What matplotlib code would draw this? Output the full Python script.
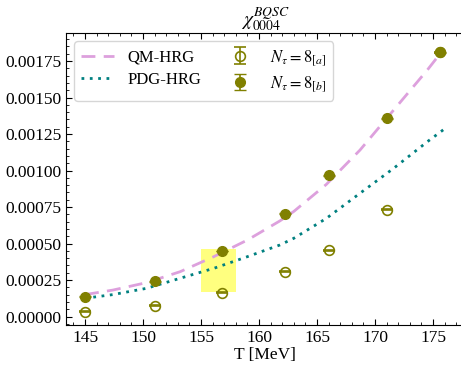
import matplotlib
matplotlib.use("Agg")
import numpy as np
from matplotlib import pyplot as plt
from matplotlib.ticker import MultipleLocator, FormatStrFormatter

# Lattice data, N_tau = 8
T_lat = [145.0, 151.0, 156.8, 162.2, 166.0, 171.0, 175.6]
chi_a = [0.000032, 0.000074, 0.000163, 0.000307, 0.000455, 0.00073, 0.00181]
err_a = [0.000003, 0.000003, 0.000003, 0.000003, 0.000003, 0.000003, 0.000003]
chi_b = [0.000137, 0.000240, 0.000449, 0.000703, 0.000966, 0.001358, 0.00181]
err_b = [0.000003, 0.000003, 0.000003, 0.000003, 0.000003, 0.000003, 0.000003]

# HRG curves
T_qm = [145.0, 147.4, 150.3, 153.2, 156.1, 159.0, 161.8, 163.0, 165.8, 168.7, 171.6, 174.5, 175.9]
chi_qm = [0.000150, 0.000181, 0.000232, 0.000307, 0.000410, 0.000524, 0.000655, 0.000720,
          0.000905, 0.00114, 0.001414, 0.001688, 0.00183]
T_pdg = [145.0, 147.4, 150.3, 153.2, 156.1, 159.0, 161.8, 163.0, 165.8, 168.7, 171.6, 174.5, 175.9]
chi_pdg = [0.000125, 0.000150, 0.000193, 0.000262, 0.000330, 0.000410, 0.000490, 0.000536,
           0.000672, 0.000844, 0.001015, 0.001197, 0.00128]

# Crossover band
band_T = [155.0, 158.0]
band_lo = 0.000167
band_hi = 0.00046

plt.rcParams["font.family"] = "serif"
plt.rcParams["font.serif"] = ["Liberation Serif"]
plt.rcParams["mathtext.fontset"] = "stix"

fig = plt.figure(figsize=(4.61, 3.65), dpi=100)
# right spine sits just outside the picture, as in the reference crop
ax = fig.add_axes([66 / 461, 1 - 325 / 365, (476 - 66) / 461, (325 - 33) / 365])

ax.fill_between(band_T, band_lo, band_hi, color="yellow", alpha=0.5, lw=0, zorder=1)

ax.plot(T_qm, chi_qm, ls=(0, (5, 3)), color="plum", lw=2, label="QM-HRG", zorder=2)
ax.plot(T_pdg, chi_pdg, ls=(0, (1, 2)), color="teal", lw=2, label="PDG-HRG", zorder=2)

ax.errorbar(T_lat, chi_a, yerr=err_a, fmt="o", mfc="none", mec="olive", color="olive",
            ms=7, capsize=4, mew=1.2, elinewidth=1.2, label=r"$N_\tau = 8_{[a]}$", zorder=3)
ax.errorbar(T_lat, chi_b, yerr=err_b, fmt="o", color="olive", ms=7, capsize=4,
            elinewidth=1.2, label=r"$N_\tau = 8_{[b]}$", zorder=4)

ax.set_xlim(143.36, 178.7)
ax.set_ylim(-0.0000582, 0.001942)
ax.xaxis.set_major_locator(MultipleLocator(5))
ax.xaxis.set_minor_locator(MultipleLocator(1))
ax.yaxis.set_major_locator(MultipleLocator(0.00025))
ax.yaxis.set_minor_locator(MultipleLocator(0.00005))
ax.yaxis.set_major_formatter(FormatStrFormatter("%.5f"))
ax.tick_params(which="both", direction="in", top=True, right=False, labelsize=12.5)
ax.tick_params(which="major", length=4)
ax.tick_params(which="minor", length=2)
ax.spines["right"].set_visible(False)

ax.set_xlabel("T [MeV]", fontsize=12.5, labelpad=1, x=0.485)
ax.set_title(r"$\chi^{BQSC}_{0004}$", fontsize=14, pad=1, x=0.485)

ax.legend(loc="upper left", ncol=2, fontsize=12, fancybox=True, columnspacing=1.3,
          labelspacing=0.4, borderaxespad=0.5)

fig.savefig("out.png", dpi=100)
